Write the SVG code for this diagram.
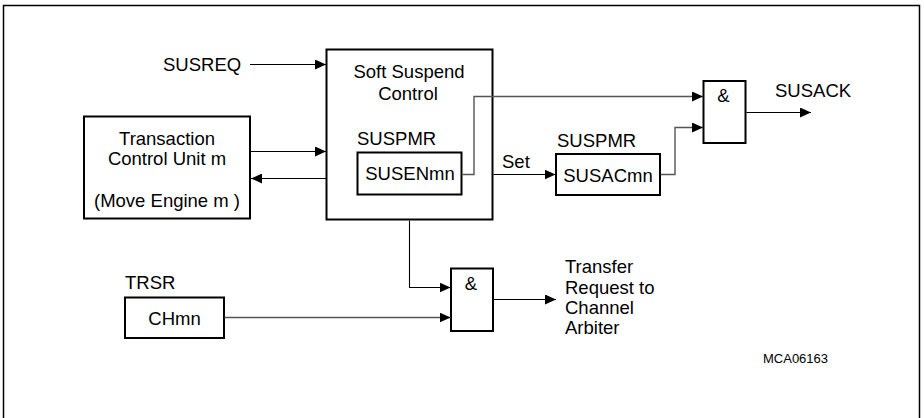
<svg xmlns="http://www.w3.org/2000/svg" width="924" height="418" viewBox="0 0 924 418">
<defs>
<marker id="arr" markerUnits="userSpaceOnUse" markerWidth="11" markerHeight="10" refX="11" refY="5" orient="auto">
<path d="M0,0 L11,5 L0,10 z" fill="#000"/>
</marker>
<style>
text{font-family:"Liberation Sans",Arial,sans-serif;font-size:18.5px;fill:#000}
.c{text-anchor:middle}
.box{fill:#fff;stroke:#000;stroke-width:2}
.w{fill:none;stroke:#000;stroke-width:1.1}
.g{fill:none;stroke:#555;stroke-width:1.4}
.sm{font-size:13px}
</style>
</defs>
<rect width="924" height="418" fill="#fff"/>
<path d="M3.5,418 V5.5 H919.5 V418" fill="none" stroke="#000" stroke-width="1.5"/>

<g id="susreq"><text x="163" y="71">SUSREQ</text></g>

<g id="tcu">
<rect class="box" x="84" y="116.5" width="166" height="102"/>
<text class="c" x="167" y="145">Transaction</text>
<text class="c" x="167" y="165">Control Unit m</text>
<text class="c" x="167" y="207">(Move Engine m )</text>
</g>

<g id="ssc">
<rect class="box" x="326.5" y="49.5" width="166" height="170"/>
<text class="c" x="409" y="78">Soft Suspend</text>
<text class="c" x="408" y="100">Control</text>
<text x="357" y="145">SUSPMR</text>
</g>

<g id="susen">
<rect class="box" x="357.5" y="152.5" width="104" height="42"/>
<text class="c" x="410" y="180">SUSENmn</text>
</g>

<g id="set-label"><text x="502" y="168">Set</text></g>

<g id="susac">
<text x="557" y="147">SUSPMR</text>
<rect class="box" x="556" y="154" width="104" height="41"/>
<text class="c" x="608" y="182">SUSACmn</text>
</g>

<g id="and1">
<rect class="box" x="703.5" y="81" width="42" height="62"/>
<text class="c" x="723.5" y="102">&amp;</text>
</g>

<g id="susack"><text x="775" y="97">SUSACK</text></g>

<g id="chmn">
<text x="125" y="289">TRSR</text>
<rect class="box" x="125" y="297.5" width="99" height="40.5"/>
<text class="c" x="174.5" y="325">CHmn</text>
</g>

<g id="and2">
<rect class="box" x="451" y="268.5" width="42" height="62.5"/>
<text class="c" x="471" y="290">&amp;</text>
</g>

<g id="transfer">
<text x="565" y="273">Transfer</text>
<text x="565" y="293.5">Request to</text>
<text x="565" y="314">Channel</text>
<text x="565" y="334">Arbiter</text>
</g>

<g id="fig-id"><text class="sm" x="763" y="363">MCA06163</text></g>

<g id="connectors">
<line class="w" x1="250" y1="64.5" x2="326" y2="64.5" marker-end="url(#arr)"/>
<line class="w" x1="250" y1="151.5" x2="326" y2="151.5" marker-end="url(#arr)"/>
<line class="w" x1="326" y1="178.5" x2="251" y2="178.5" marker-end="url(#arr)"/>
<polyline class="g" points="462.5,174.5 474,174.5 474,96.5 703,96.5" marker-end="url(#arr)"/>
<line class="w" x1="493.5" y1="174.5" x2="555.5" y2="174.5" marker-end="url(#arr)"/>
<polyline class="g" points="661,174.5 675,174.5 675,127.5 703,127.5" marker-end="url(#arr)"/>
<line class="w" x1="746.5" y1="112.5" x2="811" y2="112.5" marker-end="url(#arr)"/>
<polyline class="w" points="409.5,220.5 409.5,287.5 450.5,287.5" marker-end="url(#arr)"/>
<line class="g" x1="224.5" y1="317.5" x2="450.5" y2="317.5" marker-end="url(#arr)"/>
<line class="w" x1="494" y1="299.5" x2="556" y2="299.5" marker-end="url(#arr)"/>
</g>
</svg>
